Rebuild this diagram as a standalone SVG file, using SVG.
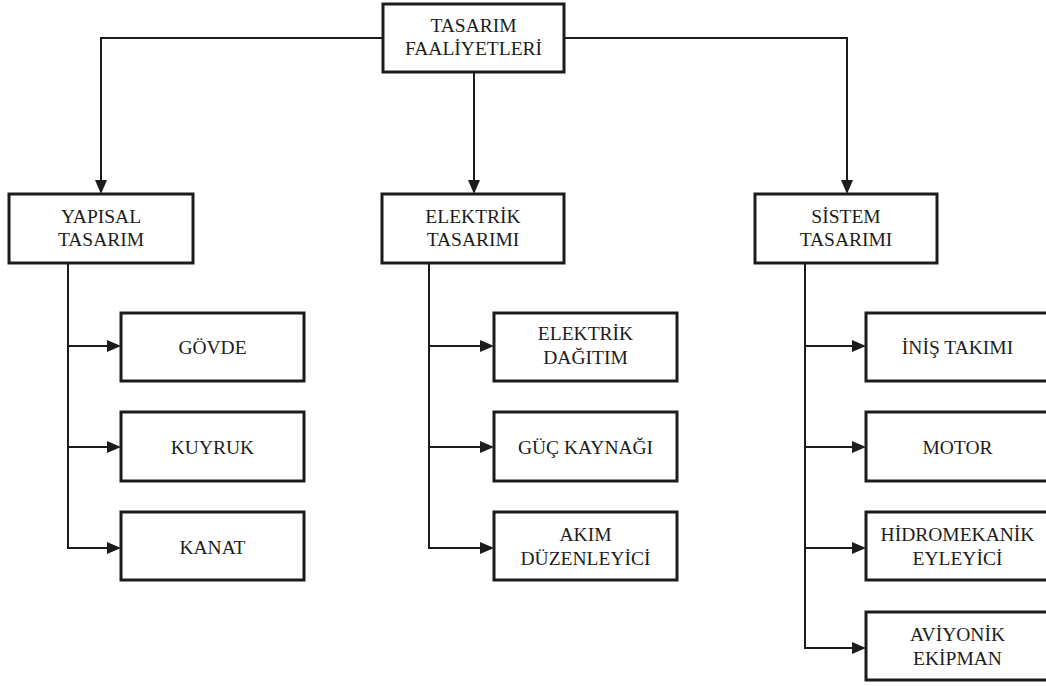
<svg xmlns="http://www.w3.org/2000/svg" width="1046" height="686" viewBox="0 0 1046 686">
  <style>
    .box { fill: #ffffff; stroke: #1c1c1c; stroke-width: 3; }
    .wire { fill: none; stroke: #1c1c1c; stroke-width: 2; }
    .lbl { font-family: 'Liberation Serif', 'Times New Roman', serif; font-size: 19.5px; fill: #1c1c1c; text-anchor: middle; }
  </style>
  <defs>
    <!-- filled arrowhead; the path ends at the arrow base, the tip extends 14px beyond -->
    <marker id="arrow" markerUnits="userSpaceOnUse" markerWidth="16" markerHeight="14" refX="0" refY="6" orient="auto">
      <path d="M0,0 L14,6 L0,12 Z" fill="#1c1c1c"/>
    </marker>
  </defs>
  <rect width="1046" height="686" fill="#ffffff"/>

  <g id="connectors">
    <!-- root to the three main branches -->
    <path class="wire" d="M383,38 H101 V180" marker-end="url(#arrow)"/>
    <path class="wire" d="M474,72 V180" marker-end="url(#arrow)"/>
    <path class="wire" d="M564,38 H847 V180" marker-end="url(#arrow)"/>
    <!-- structural branch -->
    <path class="wire" d="M68,263 V549"/>
    <path class="wire" d="M68,346 H107" marker-end="url(#arrow)"/>
    <path class="wire" d="M68,447 H107" marker-end="url(#arrow)"/>
    <path class="wire" d="M68,548 H107" marker-end="url(#arrow)"/>
    <!-- electrical branch -->
    <path class="wire" d="M429,263 V549"/>
    <path class="wire" d="M429,346 H480" marker-end="url(#arrow)"/>
    <path class="wire" d="M429,447 H480" marker-end="url(#arrow)"/>
    <path class="wire" d="M429,548 H480" marker-end="url(#arrow)"/>
    <!-- system branch -->
    <path class="wire" d="M805,263 V649"/>
    <path class="wire" d="M805,346 H852" marker-end="url(#arrow)"/>
    <path class="wire" d="M805,447 H852" marker-end="url(#arrow)"/>
    <path class="wire" d="M805,548 H852" marker-end="url(#arrow)"/>
    <path class="wire" d="M805,648 H852" marker-end="url(#arrow)"/>
  </g>

  <g id="tasarim-faaliyetleri">
    <rect class="box" x="383" y="4" width="181" height="68"/>
    <text class="lbl" x="473.5" y="32">TASARIM</text>
    <text class="lbl" x="473.5" y="55">FAALİYETLERİ</text>
  </g>

  <g id="yapisal-tasarim">
    <rect class="box" x="9" y="194" width="184" height="69"/>
    <text class="lbl" x="101" y="223">YAPISAL</text>
    <text class="lbl" x="101" y="246">TASARIM</text>
  </g>
  <g id="elektrik-tasarimi">
    <rect class="box" x="382" y="194" width="182" height="69"/>
    <text class="lbl" x="473" y="223">ELEKTRİK</text>
    <text class="lbl" x="473" y="246">TASARIMI</text>
  </g>
  <g id="sistem-tasarimi">
    <rect class="box" x="755" y="194" width="182" height="69"/>
    <text class="lbl" x="846" y="223">SİSTEM</text>
    <text class="lbl" x="846" y="246">TASARIMI</text>
  </g>

  <g id="govde">
    <rect class="box" x="121" y="313" width="183" height="68"/>
    <text class="lbl" x="212.5" y="354">GÖVDE</text>
  </g>
  <g id="kuyruk">
    <rect class="box" x="121" y="412" width="183" height="69"/>
    <text class="lbl" x="212.5" y="454">KUYRUK</text>
  </g>
  <g id="kanat">
    <rect class="box" x="121" y="512" width="183" height="68"/>
    <text class="lbl" x="212.5" y="554">KANAT</text>
  </g>

  <g id="elektrik-dagitim">
    <rect class="box" x="494" y="313" width="183" height="68"/>
    <text class="lbl" x="585.5" y="340">ELEKTRİK</text>
    <text class="lbl" x="585.5" y="364">DAĞITIM</text>
  </g>
  <g id="guc-kaynagi">
    <rect class="box" x="494" y="412" width="183" height="69"/>
    <text class="lbl" x="585.5" y="454">GÜÇ KAYNAĞI</text>
  </g>
  <g id="akim-duzenleyici">
    <rect class="box" x="494" y="512" width="183" height="68"/>
    <text class="lbl" x="585.5" y="541">AKIM</text>
    <text class="lbl" x="585.5" y="565">DÜZENLEYİCİ</text>
  </g>

  <g id="inis-takimi">
    <rect class="box" x="866" y="313" width="183" height="68"/>
    <text class="lbl" x="957.5" y="354">İNİŞ TAKIMI</text>
  </g>
  <g id="motor">
    <rect class="box" x="866" y="412" width="183" height="69"/>
    <text class="lbl" x="957.5" y="454">MOTOR</text>
  </g>
  <g id="hidromekanik-eyleyici">
    <rect class="box" x="866" y="512" width="183" height="68"/>
    <text class="lbl" x="957.5" y="541">HİDROMEKANİK</text>
    <text class="lbl" x="957.5" y="565">EYLEYİCİ</text>
  </g>
  <g id="aviyonik-ekipman">
    <rect class="box" x="866" y="612" width="183" height="68"/>
    <text class="lbl" x="957.5" y="641">AVİYONİK</text>
    <text class="lbl" x="957.5" y="665">EKİPMAN</text>
  </g>
</svg>
